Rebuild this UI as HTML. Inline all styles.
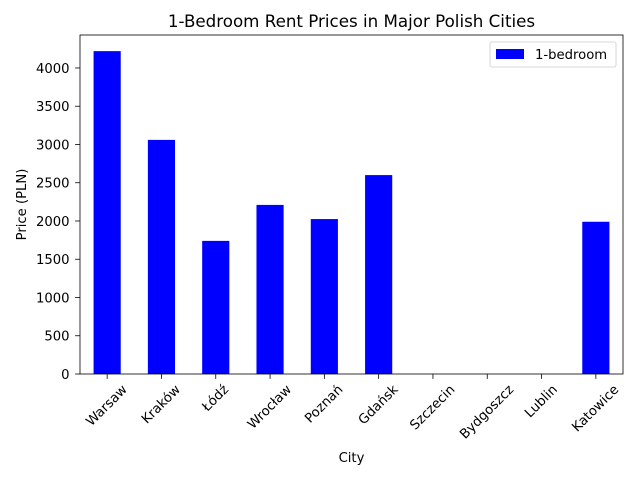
<!DOCTYPE html>
<html><head><meta charset="utf-8"><style>
body{margin:0;background:#fff;font-family:"Liberation Sans","DejaVu Sans",sans-serif}
</style></head><body>
<svg id="chart" width="640" height="480" xmlns="http://www.w3.org/2000/svg" font-family="DejaVu Sans, Liberation Sans, sans-serif"></svg>
<script>
const categories=["Warsaw","Kraków","Łódź","Wrocław","Poznań","Gdańsk","Szczecin","Bydgoszcz","Lublin","Katowice"];
const values=[4220,3060,1740,2210,2025,2600,null,null,null,1990];
const yTicks=[0,500,1000,1500,2000,2500,3000,3500,4000];
const L=80,R=623,T=35,B=374,yMax=4431;
const svg=document.getElementById('chart');
const NS="http://www.w3.org/2000/svg";
function y(v){return B-(v/yMax)*(B-T);}
const step=(R-L)/categories.length;
function x(i){return L+step*(i+0.5);}
function mk(tag,attrs,parent){const e=document.createElementNS(NS,tag);for(const k in attrs)e.setAttribute(k,attrs[k]);(parent||svg).appendChild(e);return e;}
const bars=mk('g',{});


values.forEach((v,i)=>{if(v==null)return;
 const r=mk('rect',{x:x(i)-step*0.25,y:y(v),width:step*0.5,height:B-y(v),fill:'#0000ff'},bars);
 
 
});
const frame=mk('rect',{x:L,y:T,width:R-L,height:B-T,fill:'none',stroke:'#000','stroke-width':0.8});


yTicks.forEach(t=>{
 mk('line',{x1:L-4.9,x2:L,y1:y(t),y2:y(t),stroke:'#000','stroke-width':0.8});
 const tx=mk('text',{x:L-10.5,y:y(t)+5,'text-anchor':'end','font-size':13.2});
 tx.textContent=t;
 
 
});
const fs=13.2, s=Math.SQRT1_2;
categories.forEach((c,i)=>{
 mk('line',{x1:x(i),x2:x(i),y1:B,y2:B+4.9,stroke:'#000','stroke-width':0.8});
 const tx=mk('text',{x:0,y:0,'text-anchor':'middle','dominant-baseline':'central','font-size':fs});
 tx.textContent=c;
 
 
 const w=tx.getComputedTextLength();
 const h=(w+fs*1.15)*s;
 const cx=x(i), cy=B+8.4+h/2;
 tx.setAttribute('x',cx);tx.setAttribute('y',cy);
 tx.setAttribute('transform',`rotate(-45 ${cx} ${cy})`);
});
const title=mk('text',{x:(L+R)/2,y:27,'text-anchor':'middle','font-size':16.7});
title.textContent="1-Bedroom Rent Prices in Major Polish Cities";


const xt=mk('text',{x:(L+R)/2,y:462,'text-anchor':'middle','font-size':13.2});
xt.textContent="City";


const yt=mk('text',{x:26,y:(T+B)/2,'text-anchor':'middle','font-size':13.2,transform:`rotate(-90 26 ${(T+B)/2})`});
yt.textContent="Price (PLN)";


const lg=mk('g',{});


mk('rect',{x:490,y:42,width:126,height:25,rx:2,fill:'#fff',stroke:'#ccc','stroke-width':0.8},lg);
mk('rect',{x:496,y:49,width:28,height:10,fill:'#0000ff'},lg);
const lt=mk('text',{x:535,y:59,'font-size':13.2},lg);
lt.textContent="1-bedroom";


</script>
</body></html>
